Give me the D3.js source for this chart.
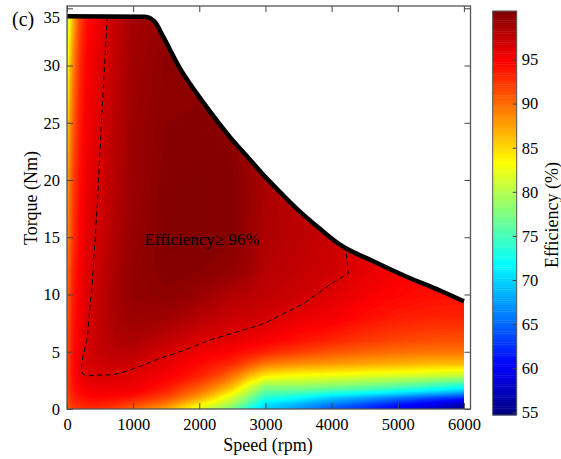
<!DOCTYPE html>
<html><head><meta charset="utf-8">
<script src="https://cdn.jsdelivr.net/npm/d3@7"></script>
<style>
body{margin:0;background:#fff}
svg{display:block}
text{font-family:"Liberation Serif","Times New Roman",serif;fill:#000}
</style>
</head><body>
<svg id="chart" width="561" height="459"></svg>
<script>
// ---- data ----
const speeds  = [0, 50, 100, 200, 300, 500, 750, 1000, 1500, 2000, 2250, 2500, 2750, 3000, 3500, 4000, 4500, 5000, 5500, 6000];
const torques = [0, 0.5, 1, 1.5, 2, 3, 4, 5, 6, 8, 10, 12, 15, 20, 25, 30, 35];
// efficiency (%) — one row per torque level, one column per speed
const efficiency = [
  [90.5, 91.5, 92.0, 92.5, 92.7, 92.5, 91.5, 90.0, 87.0, 82.0, 79.5, 77.0, 73.0, 69.5, 67.0, 64.0, 62.0, 60.0, 58.0, 55.0],
  [90.8, 92.0, 92.8, 93.3, 93.6, 93.7, 93.2, 92.0, 89.5, 84.5, 82.0, 79.5, 75.5, 71.0, 69.0, 66.5, 64.5, 62.0, 60.0, 57.5],
  [91.2, 92.5, 93.3, 94.0, 94.4, 94.6, 94.3, 93.7, 91.5, 87.5, 84.5, 81.5, 77.5, 73.5, 72.0, 69.5, 68.0, 66.0, 64.0, 62.5],
  [91.5, 92.8, 93.7, 94.6, 95.0, 95.3, 95.2, 95.0, 93.0, 89.5, 87.0, 84.0, 80.0, 76.0, 75.5, 74.0, 73.0, 71.5, 70.0, 68.5],
  [91.6, 93.0, 94.0, 95.0, 95.5, 95.8, 95.8, 95.6, 94.0, 91.0, 89.0, 86.5, 82.0, 78.5, 78.5, 78.0, 77.0, 76.0, 74.5, 73.0],
  [91.6, 93.0, 94.3, 95.5, 96.2, 96.5, 96.4, 96.1, 95.2, 93.5, 92.0, 90.0, 87.0, 84.5, 83.5, 83.0, 82.5, 82.0, 81.5, 81.0],
  [91.3, 93.0, 94.3, 95.7, 96.5, 97.0, 97.2, 97.0, 95.9, 94.5, 93.8, 93.0, 91.3, 89.5, 88.5, 88.0, 87.5, 87.0, 86.5, 86.5],
  [91.0, 92.8, 94.2, 95.6, 96.5, 97.4, 97.9, 97.9, 96.6, 95.5, 95.1, 94.7, 94.0, 93.2, 92.0, 91.0, 90.3, 89.8, 89.5, 89.5],
  [90.7, 92.6, 94.1, 95.5, 96.5, 97.5, 98.3, 98.5, 97.5, 96.4, 96.2, 95.9, 95.5, 95.0, 94.0, 93.2, 92.3, 91.7, 91.3, 91.2],
  [90.2, 92.3, 93.9, 95.3, 96.4, 97.6, 98.7, 99.2, 99.0, 98.0, 97.6, 97.1, 97.1, 96.7, 95.8, 95.3, 94.3, 93.6, 93.3, 93.2],
  [89.5, 92.0, 93.6, 95.2, 96.3, 97.5, 98.8, 99.6, 99.9, 99.3, 98.8, 98.2, 98.0, 97.6, 97.0, 96.2, 95.3, 94.6, 94.2, 94.1],
  [89.0, 91.5, 93.3, 95.0, 96.2, 97.3, 98.7, 99.6, 100.2, 100.0, 99.8, 99.6, 98.9, 98.0, 97.5, 96.9, 95.9, 95.2, 94.7, 94.6],
  [88.0, 90.5, 92.5, 94.7, 96.0, 97.0, 98.4, 99.4, 100.3, 100.3, 100.2, 100.1, 99.3, 98.4, 97.8, 97.2, 96.2, 95.5, 95.0, 94.8],
  [86.5, 89.5, 91.8, 94.2, 95.6, 96.7, 98.2, 99.2, 100.2, 100.3, 100.2, 100.1, 99.3, 98.6, 97.9, 97.4, 96.3, 95.6, 95.0, 94.8],
  [84.0, 88.0, 90.5, 93.6, 95.2, 96.4, 98.0, 99.2, 100.0, 100.1, 100.0, 99.8, 99.1, 98.4, 97.7, 97.3, 96.2, 95.5, 95.0, 94.7],
  [81.5, 86.0, 89.0, 92.8, 94.8, 96.1, 97.7, 99.0, 99.8, 99.8, 99.7, 99.4, 98.8, 98.1, 97.5, 97.1, 96.0, 95.3, 94.8, 94.5],
  [78.5, 83.0, 86.5, 91.5, 94.0, 95.7, 97.4, 98.8, 99.5, 99.5, 99.3, 99.0, 98.4, 97.8, 97.3, 96.9, 95.8, 95.1, 94.6, 94.3]
];
// maximum-torque envelope
const envelopeSpeed  = [0, 1180, 1330, 1456, 1708, 1961, 2212, 2464, 2717, 2968, 3220, 3500, 3800, 4127, 4630, 5135, 5639, 6000];
const envelopeTorque = [34.3, 34.26, 33.8, 32.5, 29.76, 27.57, 25.6, 23.75, 22.1, 20.45, 18.95, 17.35, 15.85, 14.35, 12.9, 11.55, 10.35, 9.4];
// 96 % boundary (dashed)
const contour96Speed  = [609, 534, 458, 382, 307, 237, 215, 240, 300, 450, 700, 902, 1153, 1406, 1658, 1909, 2162, 2414, 2665, 2918, 3020, 3575, 4005, 4256, 4220, 4190];
const contour96Torque = [34.3, 26.5, 17.8, 11.1, 6.2, 4.5, 3.4, 3.05, 2.9, 2.95, 3.0, 3.3, 3.84, 4.43, 4.9, 5.44, 6.03, 6.46, 6.9, 7.34, 7.6, 9.2, 10.98, 11.85, 13.6, 14.2];
const speedTicks  = [0, 1000, 2000, 3000, 4000, 5000, 6000];
const torqueTicks = [0, 5, 10, 15, 20, 25, 30, 35];
const effTicks    = [55, 60, 65, 70, 75, 80, 85, 90, 95];

// ---- scales ----
const svg = d3.select('#chart');
const FONT = '"Liberation Serif","Times New Roman",serif';
const frame = {l: 67, r: 470.5, t: 6, b: 409};
const x = d3.scaleLinear().domain([0, 6100]).range([frame.l, frame.r]);
const y = d3.scaleLinear().domain([0, 35.2]).range([frame.b, frame.t]);
const cMin = 54.7, cMax = 100.5;
const jetStops = [0, 0.125, 0.375, 0.625, 0.875, 1];
const jetColors = ['#00007f', '#0000ff', '#00ffff', '#ffff00', '#ff0000', '#7f0000'];
const color = d3.scaleLinear().domain(jetStops.map(t => cMin + t * (cMax - cMin))).range(jetColors).clamp(true);
const cb = d3.scaleLinear().domain([cMin, cMax]).range([415, 11]);

// ---- clip to envelope ----
const envPts = envelopeSpeed.map((s, i) => [s, envelopeTorque[i]]);
const envLine = d3.line().x(d => x(d[0])).y(d => y(d[1])).curve(d3.curveMonotoneX);
const envPath = envLine(envPts);
svg.append('defs').append('clipPath').attr('id', 'env').append('path')
  .attr('d', `M${x(0)},${y(0)}L` + envPath.slice(1) + `L${x(6000)},${y(0)}Z`);

// ---- filled contours ----
const nx = speeds.length, ny = torques.length;
const values = efficiency.flat();
const step = 0.25;
const thresholds = d3.range(54.5, 100.51, step);
const contours = d3.contours().size([nx, ny]).smooth(true).thresholds(thresholds)(values);
const iToSpeed = d3.scaleLinear().domain(d3.range(nx)).range(speeds).clamp(true);
const jToTorque = d3.scaleLinear().domain(d3.range(ny)).range(torques).clamp(true);
const proj = d3.geoTransform({point(px, py) { this.stream.point(x(iToSpeed(px - 0.5)), y(jToTorque(py - 0.5))); }});
const geo = d3.geoPath(proj);
const field = svg.append('g').attr('clip-path', 'url(#env)');
field.selectAll('path').data(contours).join('path')
  .attr('d', geo)
  .attr('fill', d => color(d.value + step / 2))
  .attr('stroke', d => color(d.value + step / 2))
  .attr('stroke-width', 0.3);

// dashed 96% line
field.append('path')
  .attr('d', d3.line().x(s => x(s)).y((s, i) => y(contour96Torque[i]))(contour96Speed))
  .attr('fill', 'none').attr('stroke', '#000').attr('stroke-width', 1).attr('stroke-dasharray', '5,3.5');

// envelope line
svg.append('path').attr('d', envPath)
  .attr('fill', 'none').attr('stroke', '#000').attr('stroke-width', 4.5).attr('stroke-linejoin', 'round');

// annotation
svg.append('text').attr('x', x(1170)).attr('y', y(14.3)).attr('font-size', 17).text('Efficiency\u2265 96%');

// ---- axes ----
const tickColor = '#444';
function styleAxis(g) {
  g.attr('font-family', null);
  g.select('.domain').remove();
  g.selectAll('.tick line').attr('stroke', tickColor).attr('stroke-width', 1);
  g.selectAll('.tick text').attr('font-size', 16.5).attr('fill', '#000').style('font-family', FONT);
}
const fmt = d3.format('d');
svg.append('g').attr('transform', `translate(0,${frame.b})`)
  .call(d3.axisBottom(x).tickValues(speedTicks).tickFormat(fmt).tickSizeInner(-6).tickSizeOuter(0).tickPadding(9)).call(styleAxis);
svg.append('g').attr('transform', `translate(0,${frame.t})`)
  .call(d3.axisTop(x).tickValues(speedTicks).tickSizeInner(-6).tickSizeOuter(0).tickFormat('')).call(styleAxis);
const gy = svg.append('g').attr('transform', `translate(${frame.l},0)`)
  .call(d3.axisLeft(y).tickValues(torqueTicks).tickFormat(fmt).tickSizeInner(-6).tickSizeOuter(0).tickPadding(7)).call(styleAxis);
// keep the top label inside the frame height
gy.selectAll('.tick text').attr('y', d => Math.max(0, frame.t + 11.7 - y(d)));
svg.append('g').attr('transform', `translate(${frame.r},0)`)
  .call(d3.axisRight(y).tickValues(torqueTicks).tickSizeInner(-6).tickSizeOuter(0).tickFormat('')).call(styleAxis);
svg.append('rect').attr('x', frame.l).attr('y', frame.t).attr('width', frame.r - frame.l).attr('height', frame.b - frame.t)
  .attr('fill', 'none').attr('stroke', '#555').attr('stroke-width', 1.3);

// axis titles
svg.append('text').attr('x', 268).attr('y', 451).attr('text-anchor', 'middle').attr('font-size', 18).text('Speed (rpm)');
svg.append('text').attr('transform', 'translate(37,198) rotate(-90)').attr('text-anchor', 'middle').attr('font-size', 18).text('Torque (Nm)');
svg.append('text').attr('x', 12).attr('y', 26).attr('font-size', 20).text('(c)');

// ---- colorbar ----
const cbx = 492.7, cbw = 24;
const cbLevels = d3.range(cMin, cMax, step);
svg.append('g').selectAll('rect').data(cbLevels).join('rect')
  .attr('x', cbx).attr('width', cbw)
  .attr('y', d => cb(Math.min(d + step, cMax)))
  .attr('height', d => cb(d) - cb(Math.min(d + step, cMax)) + 0.4)
  .attr('fill', d => color(d + step / 2));
svg.append('g').attr('transform', `translate(${cbx + cbw},0)`)
  .call(d3.axisRight(cb).tickValues(effTicks).tickFormat(fmt).tickSizeInner(-4).tickSizeOuter(0).tickPadding(5)).call(styleAxis);
svg.append('rect').attr('x', cbx).attr('y', cb(cMax)).attr('width', cbw).attr('height', cb(cMin) - cb(cMax))
  .attr('fill', 'none').attr('stroke', '#555').attr('stroke-width', 1);
svg.append('text').attr('transform', 'translate(558,215) rotate(-90)').attr('text-anchor', 'middle').attr('font-size', 18).text('Efficiency (%)');
</script>
</body></html>
